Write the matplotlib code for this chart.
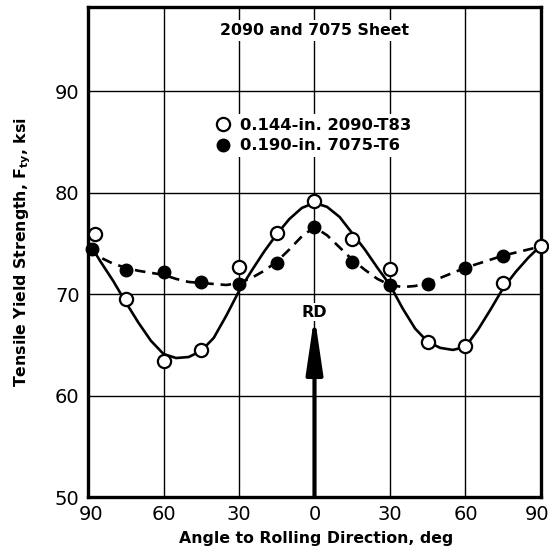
import numpy as np
import matplotlib
matplotlib.use("Agg")
import matplotlib.pyplot as plt
import matplotlib.transforms as mtransforms

plt.rcParams['font.family'] = ['DejaVu Sans']
plt.rcParams['mathtext.fontset'] = 'dejavusans'

# measured points, angle to rolling direction (deg, negative = left half)
ang_2090 = [-87.3, -75, -60, -45, -30, -15, 0, 15, 30, 45, 60, 75, 90]
fty_2090 = [75.9, 69.5, 63.4, 64.5, 72.7, 76.0, 79.2, 75.4, 72.5, 65.3, 64.9, 71.1, 74.7]

ang_7075 = [-88.5, -75, -60, -45, -30, -15, 0, 15, 30, 45, 60, 75]
fty_7075 = [74.4, 72.4, 72.2, 71.2, 71.0, 73.1, 76.6, 73.2, 70.9, 71.0, 72.6, 73.8]

# faired curves, read every 5 deg
curve_ang = list(range(-90, 95, 5))
curve_2090 = [75.2, 73.2, 71.3, 69.2, 67.2, 65.4, 64.1, 63.7, 63.8, 64.4,
              65.7, 67.9, 70.3, 72.3, 74.2, 75.9, 77.4, 78.5, 79.0,
              78.6, 77.6, 76.0, 74.4, 72.6, 70.9, 68.6, 66.6, 65.3,
              64.7, 64.5, 64.8, 66.5, 68.5, 70.6, 72.2, 73.6, 74.8]
curve_7075 = [74.5, 73.6, 73.0, 72.6, 72.3, 72.1, 71.9, 71.5, 71.2, 71.1,
              71.0, 70.9, 71.1, 71.6, 72.3, 73.2, 74.4, 75.7, 76.6,
              75.8, 74.6, 73.4, 72.4, 71.5, 70.9, 70.7, 70.8, 71.1,
              71.6, 72.1, 72.6, 73.0, 73.4, 73.8, 74.1, 74.4, 74.7]

xticks = [-90, -60, -30, 0, 30, 60, 90]
xtick_labels = ['90', '60', '30', '0', '30', '60', '90']
yticks = [50, 60, 70, 80, 90]

fig = plt.figure(figsize=(5.49, 5.52), dpi=100)
ax = fig.add_axes([0.1603, 0.0996, 0.8251, 0.8877])

ax.set_xlim(-90, 90)
ax.set_ylim(50, 98.3)
ax.set_xticks(xticks)
ax.set_xticklabels(xtick_labels)
ax.set_yticks(yticks)
ax.tick_params(length=0, labelsize=14, pad=6)
ax.grid(True, color='black', lw=1.0, zorder=0)
ax.set_axisbelow(True)
for s in ax.spines.values():
    s.set_linewidth(2.4)

# nudge the outer x labels so they stay inside the figure
xl = ax.get_xticklabels()
xl[-1].set_transform(xl[-1].get_transform() +
                     mtransforms.ScaledTranslation(-4 / 100, 0, fig.dpi_scale_trans))
xl[0].set_transform(xl[0].get_transform() +
                    mtransforms.ScaledTranslation(3 / 100, 0, fig.dpi_scale_trans))

ax.plot(curve_ang, curve_7075, color='black', lw=1.9, dashes=(4, 2.6), zorder=2)
ax.plot(curve_ang, curve_2090, color='black', lw=1.9, zorder=2)
ax.plot(ang_7075, fty_7075, 'o', color='black', ms=9, zorder=3, clip_on=False,
        label='0.190-in. 7075-T6')
ax.plot(ang_2090, fty_2090, 'o', mfc='white', mec='black', mew=1.6, ms=9.5,
        zorder=4, clip_on=False, label='0.144-in. 2090-T83')

h, l = ax.get_legend_handles_labels()
leg = ax.legend(h[::-1], l[::-1], loc='center', bbox_to_anchor=(0.497, 0.738),
                prop=dict(size=11.8, weight='bold'), handlelength=1.0,
                handletextpad=0.5, labelspacing=0.35, borderpad=0.2,
                frameon=True, fancybox=False, edgecolor='none',
                facecolor='white', framealpha=1)

ax.text(0, 96.0, '2090 and 7075 Sheet', ha='center', va='center',
        fontsize=11.3, fontweight='bold',
        bbox=dict(facecolor='white', edgecolor='none', pad=2))

# rolling direction arrow
ax.annotate('', xy=(0, 67.9), xytext=(0, 50),
            arrowprops=dict(arrowstyle='-|>,head_length=1.7,head_width=0.25',
                            lw=3, color='black', shrinkA=0, shrinkB=0,
                            mutation_scale=20), zorder=5)
ax.text(0, 68.2, 'RD', ha='center', va='center', fontsize=11.5,
        fontweight='bold', zorder=6,
        bbox=dict(facecolor='white', edgecolor='none', pad=1))

ax.set_xlabel('Angle to Rolling Direction, deg', fontsize=11.3, fontweight='bold')
ax.set_ylabel(r'Tensile Yield Strength, F$_{\mathbf{ty}}$, ksi', fontsize=11.3,
              fontweight='bold')
ax.xaxis.set_label_coords(0.503, -0.069)
ax.yaxis.set_label_coords(-0.122, 0.5)

fig.savefig('out.png', dpi=100)
